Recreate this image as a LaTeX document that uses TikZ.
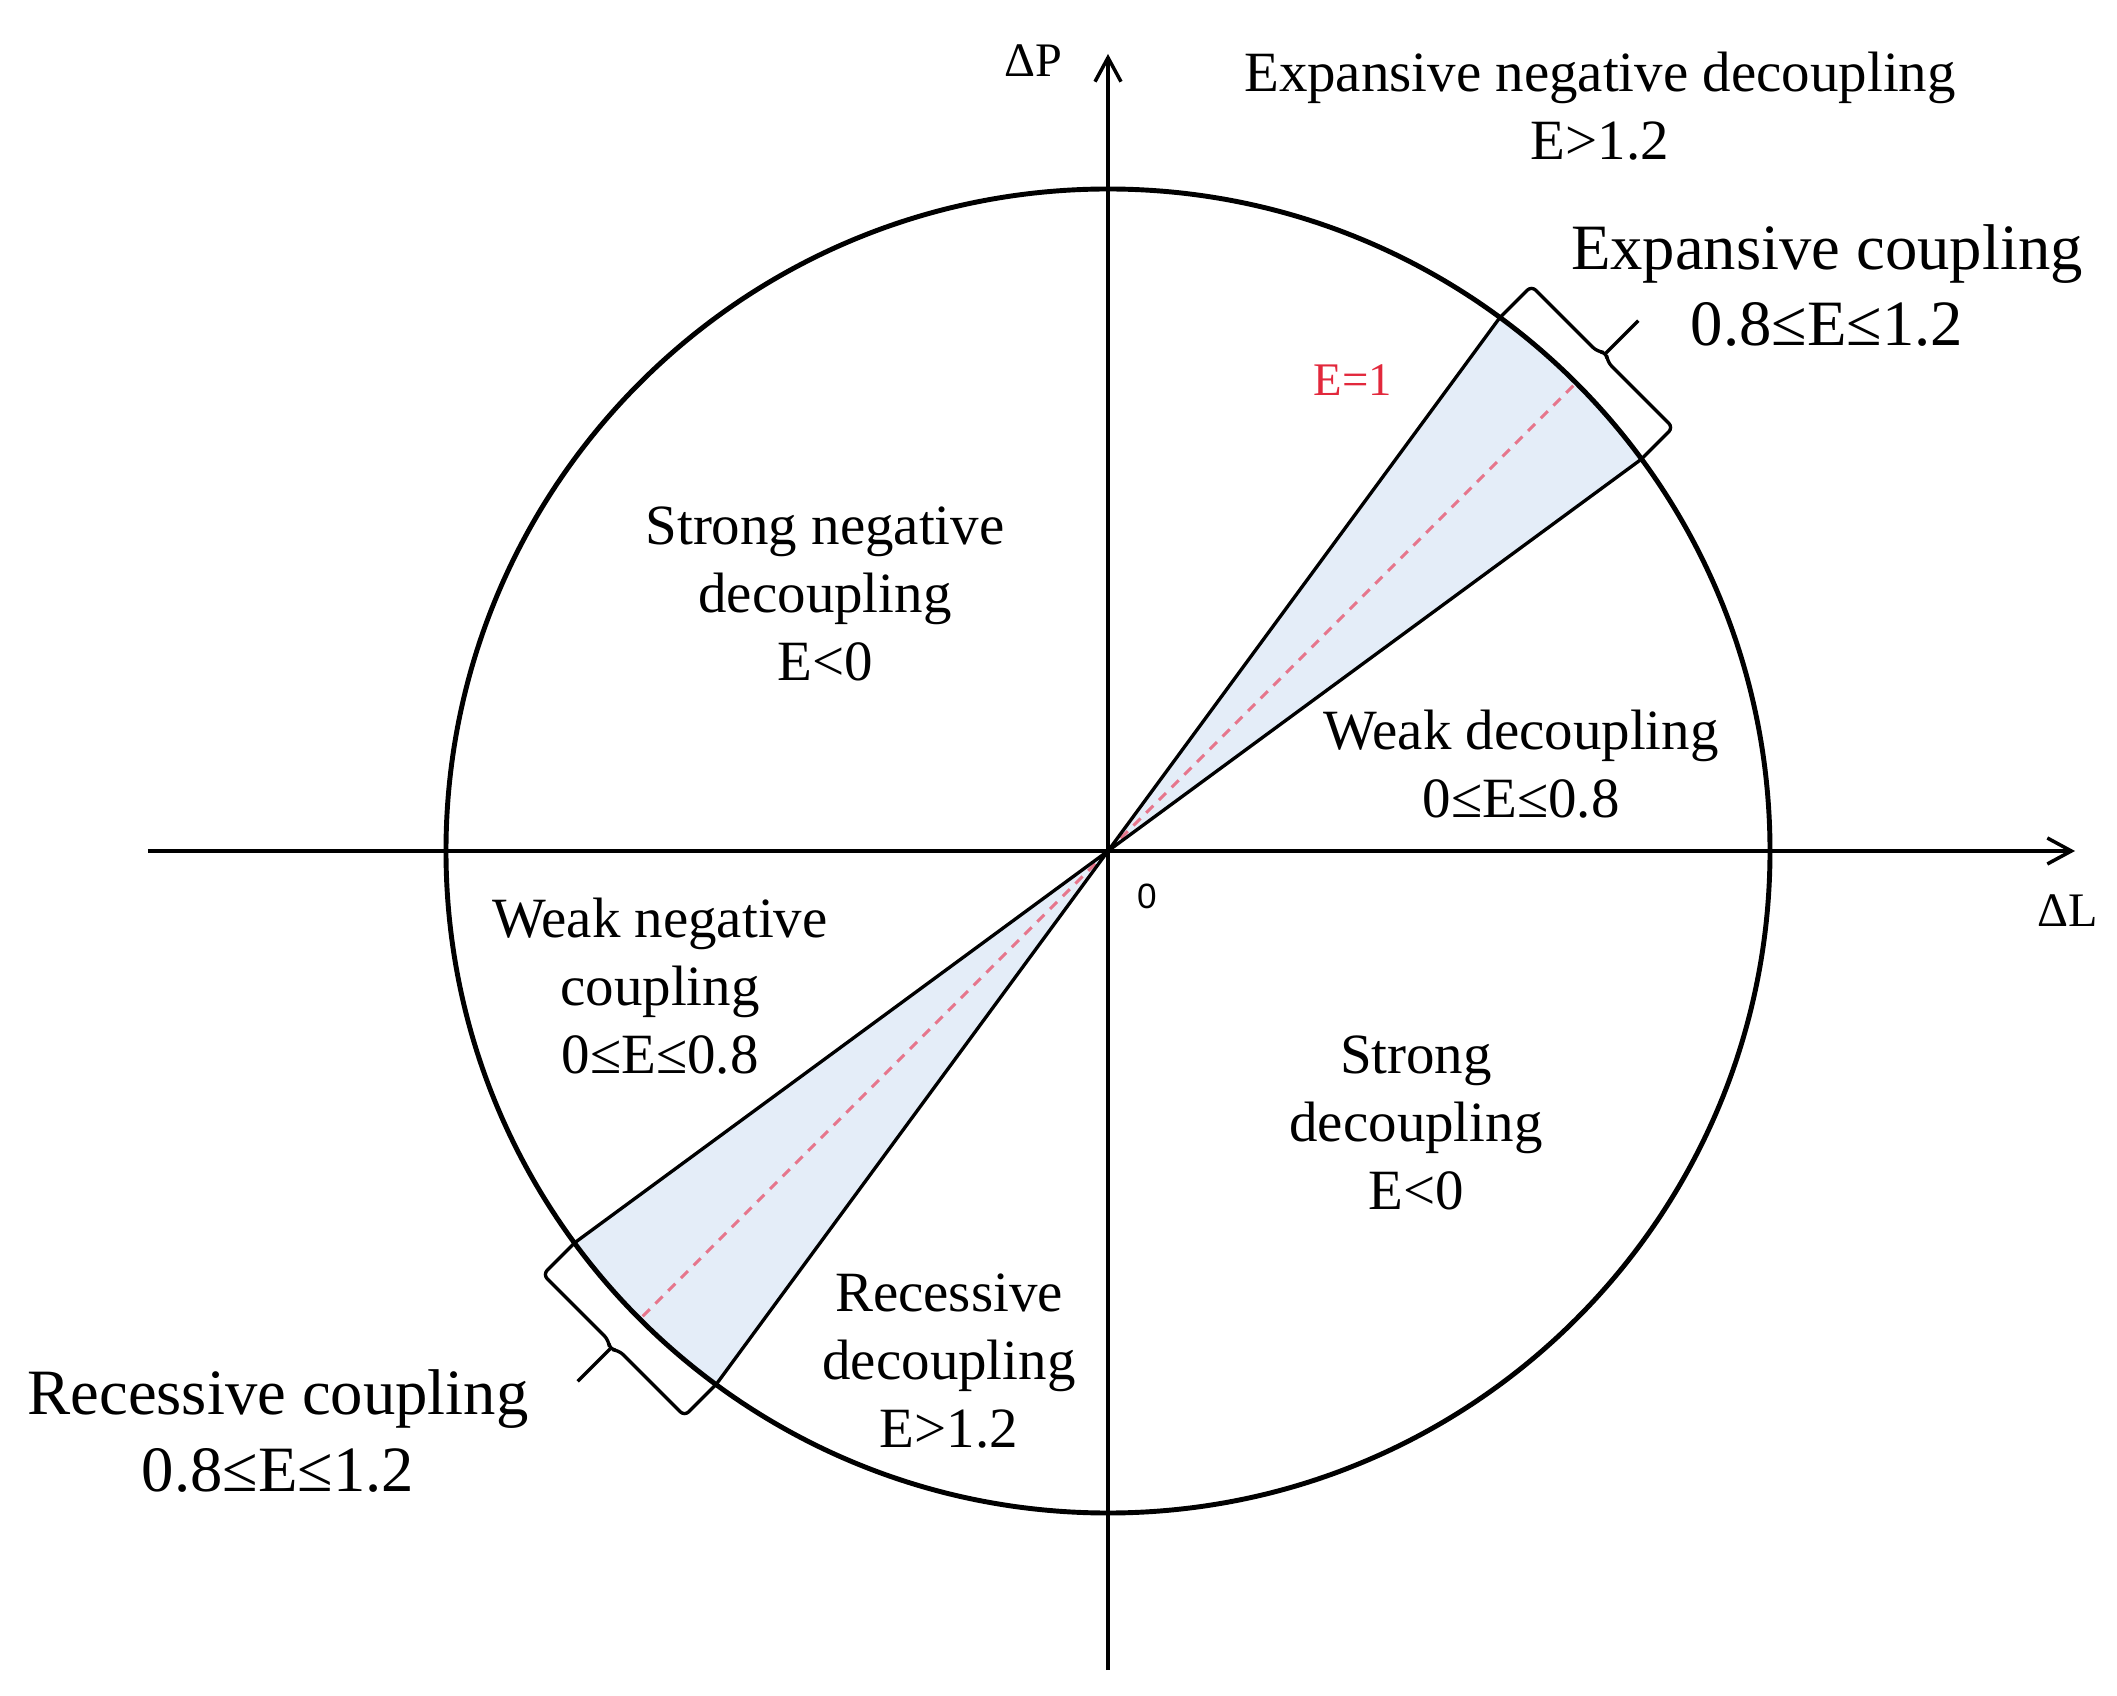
\documentclass[tikz,border=0pt]{standalone}
\usepackage{fontspec}
\setmainfont{Liberation Serif}
\setsansfont{Liberation Sans}
\usepackage{tikz}
\usetikzlibrary{arrows.meta}
\definecolor{wedgeblue}{RGB}{228,237,248}
\definecolor{unitred}{RGB}{226,40,60}
\definecolor{unitdash}{RGB}{230,118,140}

\begin{document}
\begin{tikzpicture}[
  axis/.style={line width=1pt,-{Straight Barb[length=2.4mm,width=2.6mm]}},
  region/.style={align=center,font=\fontsize{16.2}{19.3}\selectfont},
  zone/.style={align=center,font=\fontsize{18.4}{21.8}\selectfont},
  edge/.style={line width=0.95pt},
  unitline/.style={unitdash,line width=0.9pt,dash pattern=on 1mm off 0.8mm},
  brace/.style={line width=0.95pt,rounded corners=0.6mm}
]
\tikzstyle{every node}+=[inner sep=0pt]
\useasboundingbox (-11.08,-8.44) rectangle (10.09,8.51);
\def\R{6.62}
\coordinate (o) at (0,0);
\coordinate (xl) at (-9.60,0);
\coordinate (xr) at (9.67,0);
\coordinate (yb) at (0,-8.19);
\coordinate (yt) at (0,7.97);
\coordinate (up1) at (36.3:\R);
\coordinate (up2) at (53.7:\R);
\coordinate (lo1) at (216.3:\R);
\coordinate (lo2) at (233.7:\R);
\coordinate (upe) at (45:\R);
\coordinate (loe) at (225:\R);
\fill [wedgeblue] (o) -- (up1) arc (36.3:53.7:\R) -- cycle;
\fill [wedgeblue] (o) -- (lo1) arc (216.3:233.7:\R) -- cycle;
\draw [unitline] (o) -- (upe);
\draw [unitline] (o) -- (loe);
\draw [edge] (up1) -- (o) -- (up2);
\draw [edge] (lo1) -- (o) -- (lo2);
\draw [line width=1.4pt] (o) circle (\R);
\draw [axis] (xl) -- (xr);
\draw [axis] (yb) -- (yt);
\begin{scope}[rotate=45]
\draw [brace] (8.7:\R) -- (6.99,1.001) -- (6.99,0.07) -- (7.05,0) -- (6.99,-0.07) -- (6.99,-1.001) -- (-8.7:\R);
\draw [edge] (7.04,0) -- (7.50,0);
\end{scope}
\begin{scope}[rotate=225]
\draw [brace] (8.7:\R) -- (6.99,1.001) -- (6.99,0.07) -- (7.05,0) -- (6.99,-0.07) -- (6.99,-1.001) -- (-8.7:\R);
\draw [edge] (7.04,0) -- (7.50,0);
\end{scope}
\node [font=\fontsize{13.7}{16}\selectfont] (dP) at (-0.75,7.90) {ΔP};
\node [font=\fontsize{13.7}{16}\selectfont] (dL) at (9.60,-0.60) {ΔL};
\node [font=\sffamily\fontsize{10}{12}\selectfont] (zero) at (0.39,-0.45) {0};
\node [text=unitred,font=\fontsize{13.3}{16}\selectfont] (eone) at (2.45,4.71) {E=1};
\node [region] (expneg) at (4.92,7.445) {Expansive negative decoupling\\E>1.2};
\node [zone] (expcoup) at (7.19,5.655) {Expansive coupling\\0.8≤E≤1.2};
\node [region] (strneg) at (-2.83,2.57) {Strong negative\\decoupling\\E<0};
\node [region] (weakdec) at (4.13,0.865) {Weak decoupling\\0≤E≤0.8};
\node [region] (weakneg) at (-4.48,-1.35) {Weak negative\\coupling\\0≤E≤0.8};
\node [region] (strdec) at (3.08,-2.72) {Strong\\decoupling\\E<0};
\node [region] (recdec) at (-1.59,-5.10) {Recessive\\decoupling\\E>1.2};
\node [zone] (reccoup) at (-8.30,-5.80) {Recessive coupling\\0.8≤E≤1.2};
\end{tikzpicture}
\end{document}
